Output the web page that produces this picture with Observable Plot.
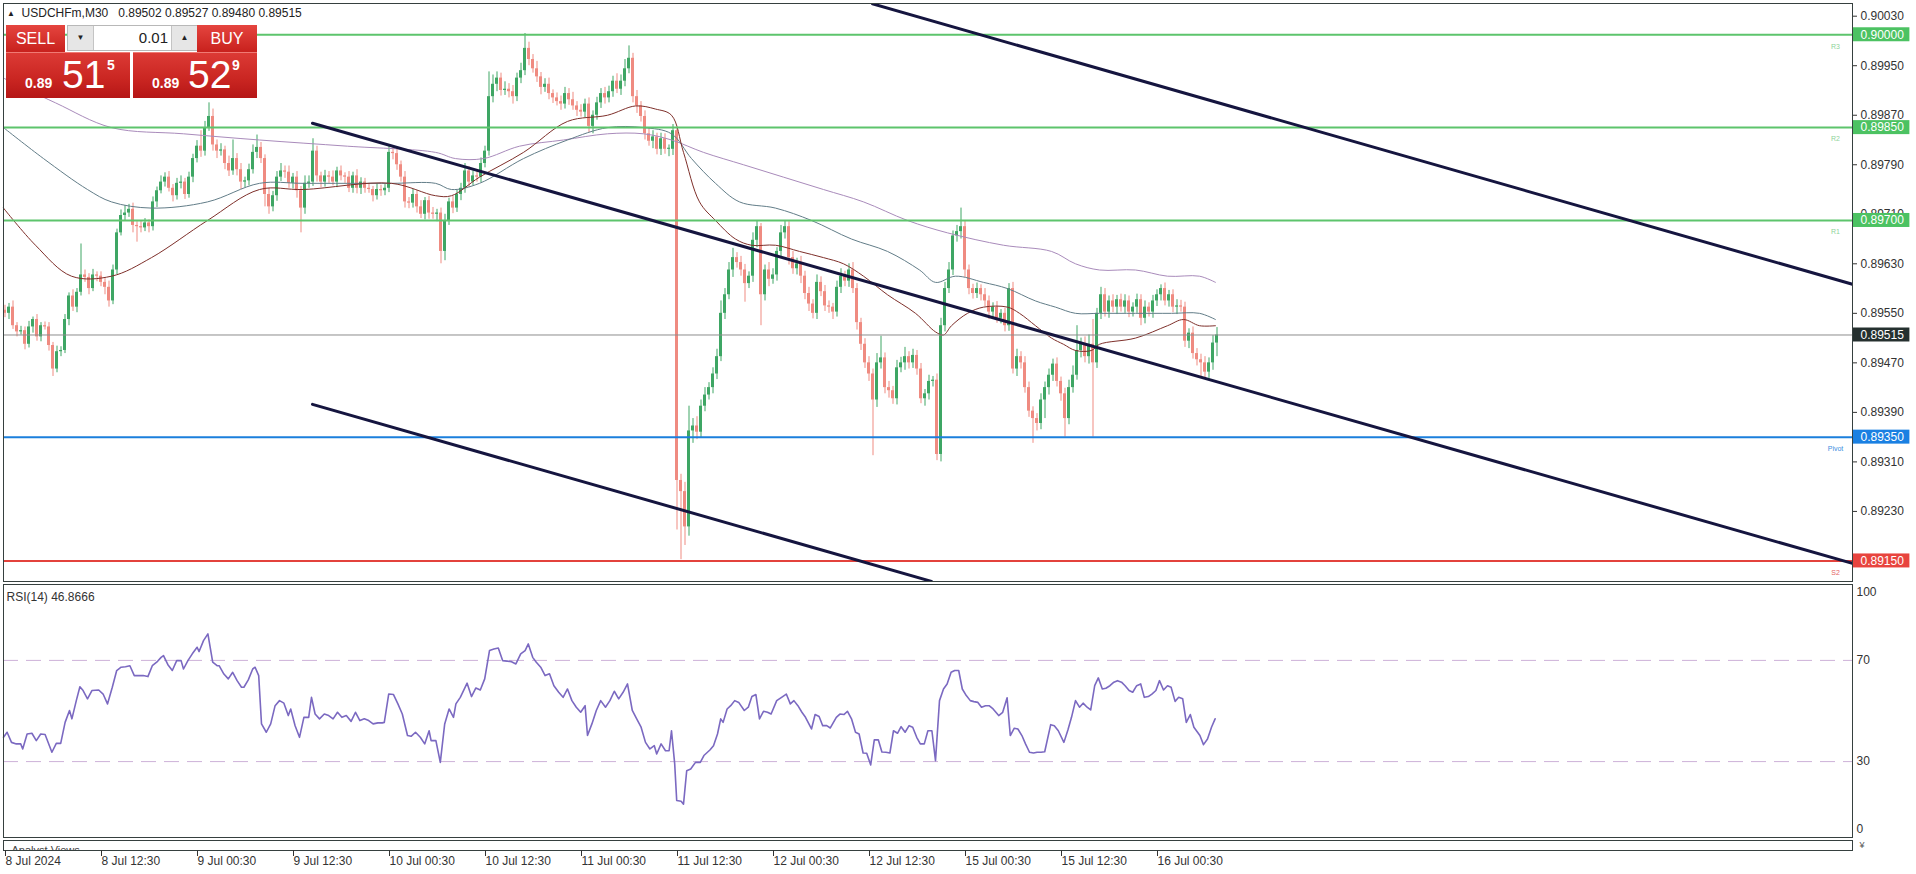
<!DOCTYPE html>
<html><head><meta charset="utf-8">
<script src="https://cdn.jsdelivr.net/npm/d3@7"></script>
<script src="https://cdn.jsdelivr.net/npm/@observablehq/plot@0.6"></script>
<style>
html,body{margin:0;padding:0;background:#fff;}
body{width:1916px;height:874px;position:relative;overflow:hidden;font-family:"Liberation Sans",Arial,sans-serif;}
.abs{position:absolute;}
#main{left:0;top:0}
#rsi{left:0;top:582px}
#axis{left:0;top:838px}
#hdr{left:7px;top:6px;font-size:12px;color:#222;white-space:pre;line-height:14px}
.red{position:absolute;color:#fff;background:linear-gradient(#e5453f,#c8211d);}
.redb{position:absolute;color:#fff;background:linear-gradient(#dc3a35 0%,#c92521 60%,#b51616 100%);}
.lbl{position:absolute;left:0;right:0;text-align:center;font-family:"Liberation Sans Narrow","Liberation Sans",sans-serif;font-size:16px;line-height:27px}
.sm{position:absolute;font-weight:bold;font-size:14px;line-height:14px}
.big{position:absolute;font-size:39px;line-height:39px}
</style></head><body>
<div id="main" class="abs"></div>
<div id="rsi" class="abs"></div>
<div id="axis" class="abs"></div>
<div id="hdr" class="abs"><span style="font-size:8px;position:relative;top:-1px">&#9650;</span>  USDCHFm,M30   0.89502 0.89527 0.89480 0.89515</div>

<div class="red" style="left:6px;top:25px;width:59px;height:27px"><div class="lbl">SELL</div></div>
<div class="red" style="left:197px;top:25px;width:60px;height:27px"><div class="lbl">BUY</div></div>
<div class="abs" style="left:67px;top:25px;width:128px;height:24px;border:1px solid #b8b8b8;background:#fff">
  <div class="abs" style="left:0;top:0;width:25px;height:24px;background:#e6e6e6;border-right:1px solid #c4c4c4;font-size:8px;line-height:24px;text-align:center;color:#222">&#9660;</div>
  <div class="abs" style="left:26px;top:0;width:74px;height:24px;font-size:15px;line-height:24px;text-align:right;color:#222">0.01</div>
  <div class="abs" style="left:103px;top:0;width:25px;height:24px;background:#e6e6e6;border-left:1px solid #c4c4c4;font-size:8px;line-height:24px;text-align:center;color:#222">&#9650;</div>
</div>
<div class="redb" style="left:6px;top:52px;width:124px;height:45px;border-top:1px solid #f07a74">
  <span class="sm" style="left:19px;top:23px">0.89</span>
  <span class="big" style="left:56px;top:2px">51</span>
  <span class="sm" style="left:101px;top:5px">5</span>
</div>
<div class="redb" style="left:133px;top:52px;width:124px;height:45px;border-top:1px solid #f07a74">
  <span class="sm" style="left:19px;top:23px">0.89</span>
  <span class="big" style="left:55px;top:2px">52</span>
  <span class="sm" style="left:99px;top:5px">9</span>
</div>

<script>
// ---------------- data ----------------
const firstOpen = 0.89555;
const closes = [
0.89550,0.89560,0.89530,0.89520,0.89522,0.89500,0.89528,0.89540,0.89512,0.89530,
0.89528,0.89498,0.89460,0.89488,0.89490,0.89540,0.89578,0.89560,0.89584,0.89612,
0.89608,0.89590,0.89612,0.89610,0.89600,0.89592,0.89570,0.89620,0.89680,0.89708,
0.89712,0.89718,0.89692,0.89690,0.89688,0.89696,0.89690,0.89730,0.89748,0.89762,
0.89770,0.89752,0.89740,0.89760,0.89762,0.89742,0.89770,0.89800,0.89820,0.89812,
0.89850,0.89868,0.89822,0.89812,0.89814,0.89792,0.89780,0.89800,0.89782,0.89762,
0.89764,0.89782,0.89810,0.89818,0.89800,0.89742,0.89722,0.89740,0.89770,0.89780,
0.89778,0.89760,0.89770,0.89748,0.89720,0.89760,0.89762,0.89812,0.89772,0.89762,
0.89772,0.89770,0.89762,0.89780,0.89772,0.89770,0.89752,0.89772,0.89752,0.89762,
0.89752,0.89750,0.89740,0.89750,0.89748,0.89752,0.89810,0.89808,0.89790,0.89770,
0.89730,0.89728,0.89742,0.89722,0.89710,0.89732,0.89712,0.89710,0.89712,0.89650,
0.89700,0.89730,0.89720,0.89742,0.89752,0.89780,0.89762,0.89772,0.89770,0.89792,
0.89812,0.89900,0.89920,0.89930,0.89910,0.89912,0.89908,0.89900,0.89930,0.89942,
0.89978,0.89960,0.89945,0.89932,0.89915,0.89920,0.89905,0.89898,0.89892,0.89888,
0.89905,0.89895,0.89885,0.89878,0.89875,0.89888,0.89852,0.89870,0.89890,0.89905,
0.89898,0.89908,0.89925,0.89912,0.89925,0.89945,0.89962,0.89900,0.89885,0.89868,
0.89840,0.89828,0.89835,0.89815,0.89832,0.89815,0.89815,0.89845,0.89280,0.89262,
0.89205,0.89360,0.89368,0.89358,0.89400,0.89418,0.89430,0.89452,0.89480,0.89550,
0.89580,0.89620,0.89640,0.89632,0.89620,0.89598,0.89610,0.89668,0.89690,0.89580,
0.89620,0.89605,0.89612,0.89650,0.89680,0.89690,0.89640,0.89622,0.89630,0.89610,
0.89582,0.89565,0.89550,0.89600,0.89585,0.89562,0.89560,0.89552,0.89592,0.89610,
0.89602,0.89620,0.89590,0.89535,0.89500,0.89470,0.89452,0.89410,0.89470,0.89478,
0.89430,0.89425,0.89412,0.89462,0.89470,0.89480,0.89470,0.89482,0.89460,0.89412,
0.89420,0.89440,0.89442,0.89322,0.89530,0.89590,0.89620,0.89675,0.89682,0.89690,
0.89620,0.89590,0.89582,0.89590,0.89580,0.89570,0.89552,0.89560,0.89542,0.89550,
0.89530,0.89590,0.89460,0.89480,0.89470,0.89430,0.89392,0.89380,0.89372,0.89410,
0.89430,0.89450,0.89468,0.89440,0.89420,0.89380,0.89430,0.89450,0.89490,0.89500,
0.89480,0.89500,0.89470,0.89550,0.89580,0.89552,0.89570,0.89560,0.89572,0.89560,
0.89570,0.89552,0.89560,0.89572,0.89542,0.89560,0.89552,0.89570,0.89580,0.89590,
0.89570,0.89580,0.89560,0.89562,0.89560,0.89505,0.89518,0.89485,0.89475,0.89470,
0.89455,0.89470,0.89502,0.89515];
// upper / lower wick lengths in points (0.00001)
const wickUp = [
8,6,10,5,7,6,9,4,8,5, 6,7,5,9,6,8,5,10,6,50, 8,6,9,5,7,6,10,8,6,9, 12,8,10,6,9,7,5,8,6,10,
7,9,6,8,10,6,8,7,9,25, 10,22,12,8,10,6,12,30,8,10, 6,9,12,20,8,6,10,7,9,12, 8,10,6,9,7,12,10,20,8,6,
9,7,10,6,8,5,9,6,10,7, 6,8,5,9,7,6,12,8,10,6, 9,7,8,6,10,5,7,9,6,8, 10,6,9,7,8,12,7,8,10,9,
8,40,15,10,8,12,9,10,8,12, 24,10,8,12,7,9,10,6,8,9, 10,8,12,7,9,8,10,7,9,8, 10,9,8,12,10,15,20,8,10,7,
9,8,10,6,9,8,7,10,5,10, 15,40,12,15,10,12,8,10,12,20, 10,12,15,8,10,9,7,12,10,5, 8,12,10,6,12,10,8,10,9,12,
8,10,7,12,9,10,8,6,10,12, 8,10,12,8,7,9,10,8,15,35, 8,10,7,12,9,15,8,10,8,9, 7,10,6,10,12,10,12,8,10,30,
10,8,7,9,6,10,8,7,9,6, 8,8,10,12,8,10,9,7,8,10, 9,10,8,10,7,9,12,15,40,10, 12,15,40,8,12,10,8,10,7,9,
10,8,7,9,8,10,7,9,8,6, 9,7,8,10,9,8,7,10,8,9, 10,8,12,12];
const wickDn = [
7,10,6,8,5,9,6,10,7,8, 5,9,12,6,8,5,10,7,9,6, 8,10,5,9,7,12,10,6,8,5, 9,7,12,25,8,6,10,7,9,5,
8,6,10,7,9,8,6,9,7,10, 8,6,10,12,8,10,9,7,10,12, 9,8,7,10,8,20,12,8,9,7, 10,8,9,12,40,10,8,7,10,9,
8,10,6,9,8,10,7,8,9,10, 8,6,10,7,9,8,7,10,9,8, 10,9,8,10,7,9,10,8,12,20, 15,8,9,7,10,8,9,6,8,9,
7,8,10,12,9,8,10,12,8,9, 8,10,7,9,12,8,10,9,7,10, 8,9,7,10,8,9,10,12,8,9, 10,8,9,7,10,9,8,10,12,9,
10,8,12,9,10,8,12,10,80,110, 30,15,20,12,10,9,8,10,9,8, 10,8,12,9,10,30,8,10,12,50, 10,12,8,10,9,10,12,9,10,12,
10,12,9,10,8,9,10,12,8,10, 9,10,8,12,10,9,12,90,12,10, 10,12,9,10,8,12,10,9,10,8, 12,10,9,10,12,10,8,9,10,12,
12,10,9,8,10,9,12,10,8,9, 10,9,8,12,10,9,10,40,12,10, 30,12,10,9,12,30,10,9,8,12, 10,12,120,9,10,8,10,9,12,8,
10,9,8,10,12,9,8,10,9,10, 8,10,9,12,8,10,12,9,10,25, 10,10,12,22];

// moving averages (bar position, price)
const maFastBar = [0,8,17,27,37,51,64,75,97,108,112,119,130,141,151,158,163,167,170,174,178,183,187,193,199,205,210,215,221,228,233,235,237,241,245,251,254,258,262,265,268,272,274,283,291,295,299,303];
const maFastVal = [0.8972,0.8966,0.8961,0.8961,0.8964,0.8970,0.8975,0.8975,0.8976,0.8974,0.8974,0.8977,0.8981,0.8986,0.8987,0.89885,0.8988,0.8987,0.8981,0.8973,0.8970,0.8967,0.8966,0.8966,0.8965,0.8964,0.8963,0.8961,0.8958,0.8955,0.8952,0.89515,0.8953,0.8955,0.8956,0.8956,0.8955,0.8953,0.8951,0.8950,0.8949,0.8949,0.8950,0.8951,0.8953,0.8954,0.8953,0.8953];
const maMidBar = [0,10,21,27,37,51,64,75,97,108,112,119,130,141,151,160,167,172,178,184,193,202,212,221,229,233,238,245,251,258,263,268,274,283,292,299,303];
const maMidVal = [0.8985,0.8980,0.8975,0.8973,0.8972,0.8973,0.8976,0.8976,0.8976,0.8976,0.8975,0.8976,0.8980,0.8983,0.8985,0.8985,0.8984,0.8980,0.8976,0.8973,0.8972,0.8970,0.8967,0.8965,0.8962,0.8960,0.8961,0.8960,0.8959,0.8957,0.8956,0.8955,0.8955,0.8955,0.8955,0.8955,0.8954];
const maSlowBar = [0,13,27,45,64,86,108,113,120,129,140,151,160,167,175,185,195,205,215,226,236,250,262,268,274,283,291,299,303];
const maSlowVal = [0.8993,0.8989,0.8985,0.8984,0.8983,0.8982,0.8981,0.8980,0.8980,0.8982,0.8983,0.8984,0.8984,0.8983,0.8981,0.8979,0.8977,0.8975,0.8973,0.8970,0.8968,0.8966,0.8965,0.8963,0.8962,0.8962,0.8961,0.8961,0.8960];

// RSI(14) (bar position, value)
const rsiBar = [0,0.9,2.0,3.2,4.3,4.8,5.9,7.1,8.2,9.3,10.4,12.1,13.2,14.3,15.4,16.5,17.1,18.2,19.1,19.9,21.0,22.1,23.8,24.9,26.0,27.2,28.3,29.4,30.5,31.6,32.7,33.8,34.9,36.1,37.2,38.3,39.4,40.0,41.1,42.2,43.3,44.4,45.0,46.1,47.2,48.4,48.9,50.0,51.1,52.3,53.4,53.9,55.1,56.2,57.3,58.4,59.5,60.1,61.2,62.3,62.9,63.8,64.5,65.7,66.8,67.9,69.0,70.1,71.2,71.8,72.9,74.0,75.1,76.3,77.0,77.9,79.0,80.2,81.3,82.4,83.5,84.6,85.7,86.9,88.0,89.1,90.2,91.3,92.4,93.6,94.7,95.2,96.3,97.5,98.6,99.7,101.0,101.9,103.0,104.2,105.3,106.4,106.9,108.1,109.2,110.3,111.4,112.5,113.1,114.2,115.9,117.0,118.1,119.2,120.3,121.5,122.6,123.7,124.8,125.9,127.0,128.1,129.3,130.4,131.2,132.3,133.2,134.3,135.4,136.5,137.6,138.8,139.9,141.0,142.1,143.2,144.3,145.4,146.0,147.1,148.2,149.3,150.5,151.6,152.7,153.8,154.9,156.0,157.2,158.3,159.4,160.5,161.6,162.7,163.3,164.4,165.5,166.4,167.0,167.8,168.3,169.4,170.0,170.8,171.8,173.0,174.2,175.1,176.6,177.5,178.5,179.3,179.9,180.9,181.8,182.8,183.8,185.2,186.2,187.1,188.1,189.0,190.0,191.0,191.9,193.3,194.8,195.7,196.7,197.6,198.6,199.6,200.5,202.0,202.9,203.9,204.8,205.8,206.7,208.2,209.1,210.1,211.0,212.0,213.0,213.9,214.9,215.8,216.8,217.7,218.7,219.6,220.6,221.6,222.5,223.5,224.4,225.4,226.4,227.3,228.3,229.2,230.2,231.1,232.1,233.0,234.0,235.0,235.9,236.9,237.8,238.8,239.7,240.7,241.7,242.6,243.6,244.5,245.5,246.4,247.4,248.8,249.8,250.9,251.7,252.7,253.6,254.6,255.5,256.5,257.5,258.4,259.4,260.3,261.8,262.7,263.7,265.1,266.1,267.0,268.0,269.0,269.9,270.9,271.8,272.8,273.7,274.7,275.6,276.6,277.6,278.5,279.5,280.4,281.4,282.3,283.3,284.3,285.2,286.2,287.1,288.1,289.0,290.0,291.0,291.9,292.9,293.8,294.8,295.7,296.7,297.6,299.1,300.0,301.0,302.0,302.9];
const rsiVal = [39.6,41.6,37.6,37.0,37.0,35.0,40.9,41.2,38.3,40.9,40.7,33.7,37.2,37.2,45.5,50.2,46.9,54.1,59.6,58.1,54.8,58.1,58.3,56.7,52.8,59.4,66.0,67.3,67.5,67.9,64.0,64.0,64.0,63.6,67.9,69.3,71.2,71.9,68.3,66.0,69.9,69.9,66.6,69.9,72.6,75.2,73.5,77.8,80.5,69.3,67.9,67.9,64.6,62.7,65.3,62.0,59.4,59.4,62.3,66.6,67.3,64.0,44.9,41.6,44.9,52.1,54.1,53.1,48.2,50.8,44.2,39.6,47.5,47.5,55.4,48.8,46.9,48.8,48.2,46.9,49.5,47.5,48.2,45.9,49.5,46.2,46.9,46.2,44.9,45.3,45.3,45.5,56.7,56.5,52.8,48.8,40.3,40.0,41.6,39.6,37.0,42.2,38.3,38.3,29.7,44.9,50.8,47.5,52.8,55.4,61.0,55.7,59.1,58.3,62.7,73.9,74.5,74.9,69.9,69.7,69.5,68.6,72.6,73.9,76.5,71.2,69.3,67.3,64.0,64.7,60.0,57.4,55.4,58.7,54.1,51.5,49.5,52.1,40.3,44.9,50.2,54.1,51.5,54.1,57.8,54.8,57.4,60.7,50.2,46.9,43.6,37.6,35.0,36.3,33.0,37.0,34.3,34.3,42.2,29.1,14.6,14.3,13.2,26.4,27.1,29.7,29.7,32.4,34.6,36.3,40.9,46.9,45.5,50.8,52.1,54.1,53.4,50.2,51.5,55.7,56.5,46.9,49.9,49.5,48.8,54.1,55.7,56.7,52.8,54.1,52.1,49.5,47.5,42.9,48.6,47.8,44.2,44.2,43.3,47.5,48.8,48.6,49.9,46.9,41.6,40.9,33.4,33.3,28.7,38.6,38.6,33.8,33.7,33.4,42.2,41.2,43.8,41.6,44.2,43.6,39.6,37.0,37.0,42.2,42.2,30.4,54.1,58.7,60.7,65.3,66.0,66.0,58.7,56.1,54.1,53.7,53.4,51.5,52.1,52.1,50.8,48.2,49.5,55.2,40.3,43.2,42.9,40.3,37.0,33.7,33.4,33.7,33.7,33.9,44.6,44.2,42.2,37.6,42.5,47.5,54.1,51.5,53.1,51.5,50.4,60.0,63.1,58.7,59.0,60.0,61.4,62.0,61.4,60.0,58.1,57.4,60.0,60.7,55.4,55.7,56.7,58.1,62.0,58.3,60.0,59.4,53.8,55.4,54.8,45.5,48.6,43.6,40.3,36.7,38.9,43.6,46.9];

// horizontal levels
const levelNames  = ["R3","R2","R1","Pivot","S2"];
const levelPrices = [0.90000,0.89850,0.89700,0.89350,0.89150];
const lastPrice = 0.89515;

// channel trend lines (bar, price endpoints)
const trendUpperBar = [217.25, 462.25], trendUpperVal = [0.90050, 0.89597];
const trendMidBar   = [77.25, 462.25],  trendMidVal   = [0.89857, 0.89146];
const trendLowBar   = [77.25, 232],     trendLowVal   = [0.89403, 0.89117];

const priceTicks = [0.90030,0.89950,0.89870,0.89790,0.89710,0.89630,0.89550,0.89470,0.89390,0.89310,0.89230];
const rsiTicks = [70, 30];
const timeTickBars = [0,24,48,72,96,120,144,168,192,216,240,264,288];
const timeTickLabels = ["8 Jul 2024","8 Jul 12:30","9 Jul 00:30","9 Jul 12:30","10 Jul 00:30","10 Jul 12:30","11 Jul 00:30","11 Jul 12:30","12 Jul 00:30","12 Jul 12:30","15 Jul 00:30","15 Jul 12:30","16 Jul 00:30"];

// ---------------- styles ----------------
const UP = "#3ea664", DOWN = "#ef8b81";
const levelColors = ["#5dc46c","#5dc46c","#5dc46c","#1b7fdc","#e3423c"];
const levelBox = ["#4cc262","#4cc262","#4cc262","#1a80e2","#e8443e"];
const levelText = ["#8fd39a","#8fd39a","#8fd39a","#3c8ee0","#e5655f"];
const FRAME = "#36403f";
const W = 1916;
const xDomain = [0, 462.25];
const font = "'Liberation Sans', Arial, sans-serif";

// ---------------- derived tables ----------------
const candles = closes.map((c, i) => {
  const o = i === 0 ? firstOpen : closes[i - 1];
  const top = Math.max(o, c), bot = Math.min(o, c);
  return {i, o, c, top: Math.max(top, bot + 0.000017), bot,
          h: top + wickUp[i] * 1e-5, l: bot - wickDn[i] * 1e-5, up: c >= o};
});
const ma = [];
maSlowBar.forEach((b, k) => ma.push({id: "slow", bar: b, v: maSlowVal[k]}));
maMidBar.forEach((b, k) => ma.push({id: "mid", bar: b, v: maMidVal[k]}));
maFastBar.forEach((b, k) => ma.push({id: "fast", bar: b, v: maFastVal[k]}));
const maColor = {slow: "#a98bbb", mid: "#627d88", fast: "#7e2f2a"};
const trends = [];
[[trendUpperBar, trendUpperVal, "u"], [trendMidBar, trendMidVal, "m"], [trendLowBar, trendLowVal, "l"]]
  .forEach(([bs, vs, id]) => bs.forEach((b, k) => trends.push({id, bar: b, v: vs[k]})));
const levels = levelNames.map((n, k) => ({name: n, p: levelPrices[k], color: levelColors[k], box: levelBox[k], tc: levelText[k]}));
const boxes = levels.map(d => ({p: d.p, box: d.box})).concat([{p: lastPrice, box: "#25302f"}]);
const rsi = rsiBar.map((b, k) => ({bar: b, v: rsiVal[k]}));
const tickLabel = new Map(timeTickBars.map((b, k) => [b, timeTickLabels[k]]));

const boxHalf = 0.000113;

// ---------------- main pane ----------------
const main = Plot.plot({
  width: W, height: 584,
  marginLeft: 3, marginRight: 64, marginTop: 3, marginBottom: 3,
  x: {domain: xDomain, axis: null, label: null},
  y: {domain: [0.891168, 0.900505], axis: null, label: null},
  color: {type: "identity"},
  style: {fontFamily: font, fontSize: "12px", background: "transparent", overflow: "visible"},
  marks: [
    Plot.ruleX(candles, {x: d => d.i + 0.375, y1: "l", y2: "h", stroke: d => d.up ? UP : DOWN, strokeWidth: 1}),
    Plot.rect(candles, {x1: d => d.i, x2: d => d.i + 0.75, y1: "bot", y2: "top", fill: d => d.up ? UP : DOWN}),
    Plot.line(ma, {x: "bar", y: "v", z: "id", stroke: d => maColor[d.id], strokeWidth: 1, curve: "catmull-rom"}),
    Plot.ruleY([lastPrice], {stroke: "#8d8d8d", strokeWidth: 1}),
    Plot.ruleY(levels, {y: "p", stroke: "color", strokeWidth: 2}),
    Plot.line(trends, {x: "bar", y: "v", z: "id", stroke: "#15153f", strokeWidth: 3, clip: true}),
    Plot.text(levels, {x: 458, y: "p", text: "name", dy: 11.5, fontSize: 7, fill: "tc", textAnchor: "middle"}),
    Plot.axisY(priceTicks, {anchor: "right", label: null, tickSize: 4, tickPadding: 4, tickFormat: d => d.toFixed(5), color: "#333", fontSize: 12}),
    Plot.rect(boxes, {x1: 462.5, x2: 476.6, y1: d => d.p - boxHalf, y2: d => d.p + boxHalf, fill: "box"}),
    Plot.text(boxes, {x: 462.25, y: "p", text: d => d.p.toFixed(5), dx: 8, textAnchor: "start", fill: "white", fontSize: 12}),
    Plot.frame({stroke: FRAME})
  ]
});
document.getElementById("main").append(main);

// ---------------- RSI pane ----------------
const rsiPlot = Plot.plot({
  width: W, height: 258,
  marginLeft: 3, marginRight: 64, marginTop: 2, marginBottom: 3,
  x: {domain: xDomain, axis: null, label: null},
  y: {domain: [0, 100], axis: null, label: null},
  style: {fontFamily: font, fontSize: "12px", background: "transparent", overflow: "visible"},
  marks: [
    Plot.ruleY(rsiTicks, {stroke: "#cdb1d8", strokeDasharray: "15,8", strokeWidth: 1}),
    Plot.line(rsi, {x: "bar", y: "v", stroke: "#7b69c1", strokeWidth: 1.6}),
    Plot.axisY(rsiTicks, {anchor: "right", label: null, tickSize: 0, tickPadding: 4, color: "#333", fontSize: 12}),
    Plot.text([100], {x: 462.25, y: d => d, text: d => String(d), dx: 4, dy: 8, textAnchor: "start", fill: "#333", fontSize: 12}),
    Plot.text([0], {x: 462.25, y: d => d, text: d => String(d), dx: 4, dy: -8, textAnchor: "start", fill: "#333", fontSize: 12}),
    Plot.text(["RSI(14) 46.8666"], {frameAnchor: "top-left", dx: 3, dy: 8, textAnchor: "start", fill: "#333", fontSize: 12}),
    Plot.frame({stroke: FRAME})
  ]
});
document.getElementById("rsi").append(rsiPlot);

// ---------------- time axis + analyst strip ----------------
const axisPlot = Plot.plot({
  width: W, height: 36,
  marginLeft: 3, marginRight: 64, marginTop: 2, marginBottom: 24,
  x: {domain: xDomain, axis: null, label: null},
  y: {domain: [0, 1], axis: null, label: null},
  style: {fontFamily: font, fontSize: "12px", background: "transparent", overflow: "visible"},
  marks: [
    Plot.text(["Analyst Views"], {frameAnchor: "bottom-left", dx: 8, dy: 3, textAnchor: "start", fill: "#444", fontSize: 11, clip: true}),
    Plot.frame({stroke: FRAME}),
    Plot.text(["\u00a5"], {frameAnchor: "right", dx: 7, textAnchor: "start", fill: "#555", fontSize: 9}),
    Plot.axisX(timeTickBars, {anchor: "bottom", label: null, tickSize: 6, tickPadding: 0, tickFormat: d => tickLabel.get(d), textAnchor: "start", dx: 2, color: "#333", fontSize: 12})
  ]
});
document.getElementById("axis").append(axisPlot);
</script>
</body></html>
